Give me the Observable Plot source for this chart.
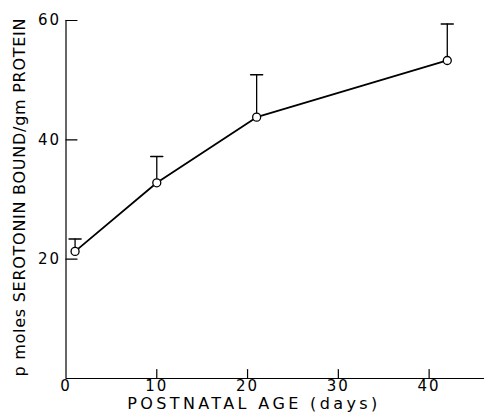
<!DOCTYPE html>
<html>
<head>
<meta charset="utf-8">
<script src="https://cdn.jsdelivr.net/npm/d3@7"></script>
<script src="https://cdn.jsdelivr.net/npm/@observablehq/plot@0.6"></script>
<style>
  html, body { margin: 0; padding: 0; background: #fff; }
  #chart { width: 484px; height: 418px; }
</style>
</head>
<body>
<div id="chart"></div>
<script>
const days = [1, 10, 21, 42];
const meanBound = [21.3, 32.8, 43.8, 53.3];
const upperBound = [23.4, 37.2, 50.9, 59.4];
const xTicks = [0, 10, 20, 30, 40];
const yTicks = [20, 40, 60];
const xTitle = "POSTNATAL AGE (days)";
const yTitle = "p moles SEROTONIN BOUND/gm PROTEIN";

const data = days.map((d, i) => ({day: d, mean: meanBound[i], upper: upperBound[i]}));

const capShape = {draw(c, l) { c.moveTo(-l / 2, 0); c.lineTo(l / 2, 0); }};
const tickRight = {draw(c, l) { c.moveTo(0, 0); c.lineTo(l, 0); }};
const tickUp = {draw(c, l) { c.moveTo(0, 0); c.lineTo(0, -l); }};

const font = "'DejaVu Sans', sans-serif";

const chart = Plot.plot({
  width: 484,
  height: 418,
  marginLeft: 65.5,
  marginRight: 0,
  marginTop: 20,
  marginBottom: 40,
  style: {background: "#fff", color: "#000", fontFamily: font},
  x: {domain: [0, 46.1]},
  y: {domain: [0, 60]},
  marks: [
    Plot.ruleX([0], {stroke: "#000", strokeWidth: 1.2}),
    Plot.ruleY([0], {stroke: "#000", strokeWidth: 1.2}),
    Plot.vector(yTicks, {x: 0, y: d => d, length: 11, anchor: "start", shape: tickRight, stroke: "#000", strokeWidth: 1.2}),
    Plot.vector(xTicks.filter(t => t > 0), {x: d => d, y: 0, length: 9, anchor: "start", shape: tickUp, stroke: "#000", strokeWidth: 1.2}),
    Plot.axisY({ticks: yTicks, tickSize: 0, tickPadding: 5, label: null, fontSize: 15}),
    Plot.axisX({ticks: xTicks, tickSize: 0, tickPadding: 2, label: null, fontSize: 15}),
    Plot.text([xTitle], {frameAnchor: "bottom", dx: -23, dy: 25, lineAnchor: "middle", fontSize: 16, fill: "#000", ariaDescription: "x-title"}),
    Plot.text([yTitle], {frameAnchor: "left", textAnchor: "middle", dx: -46, dy: -2, rotate: -90, fontSize: 16, fill: "#000", ariaDescription: "y-title"}),
    Plot.ruleX(data, {x: "day", y1: "mean", y2: "upper", stroke: "#000", strokeWidth: 1.3}),
    Plot.vector(data, {x: "day", y: "upper", length: 12, anchor: "start", shape: capShape, stroke: "#000", strokeWidth: 1.5}),
    Plot.line(data, {x: "day", y: "mean", stroke: "#000", strokeWidth: 1.8}),
    Plot.dot(data, {x: "day", y: "mean", r: 4, fill: "#fff", stroke: "#000", strokeWidth: 1.3})
  ]
});

const svg = d3.select(chart);
svg.selectAll('g[aria-description="x-title"] text').attr("textLength", 250).attr("lengthAdjust", "spacing");
svg.selectAll('g[aria-description="y-title"] text').attr("textLength", 358).attr("lengthAdjust", "spacing");
svg.selectAll('g[aria-label="x-axis tick label"] text, g[aria-label="y-axis tick label"] text').style("letter-spacing", "2px");

document.getElementById("chart").appendChild(chart);
</script>
</body>
</html>
